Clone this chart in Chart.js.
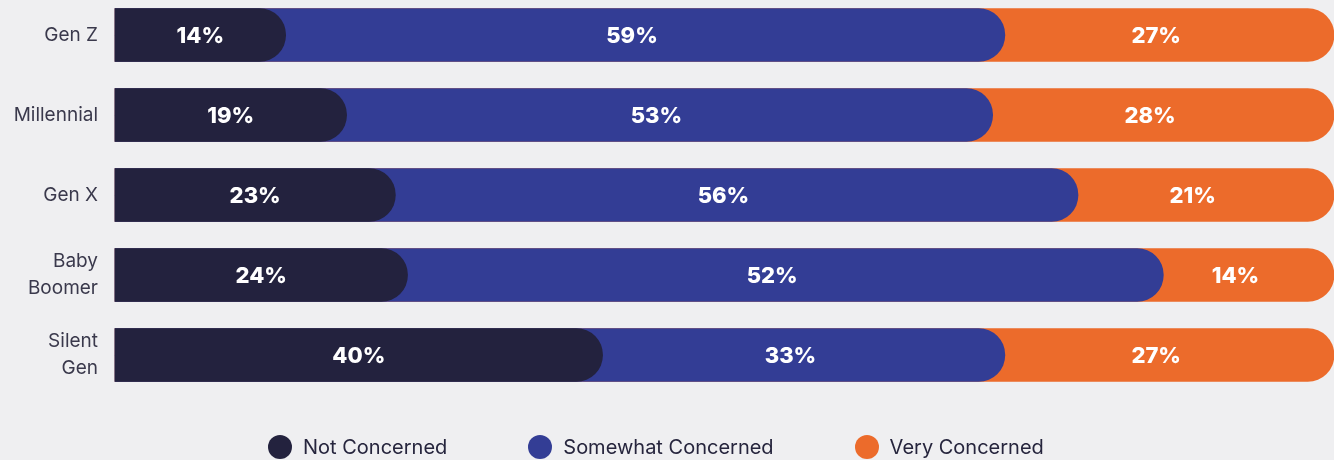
<!DOCTYPE html>
<html>
<head>
<meta charset="utf-8">
<script src="https://cdn.jsdelivr.net/npm/chart.js@4.4.1/dist/chart.umd.min.js"></script>
<style>
  html, body { margin: 0; padding: 0; background: #efeff1; }
  #wrap { position: relative; width: 1334px; height: 460px; overflow: hidden; }
  #legend { position: absolute; left: 268px; top: 435px; display: flex; align-items: center;
    font-family: Inter, sans-serif; font-size: 20px; color: #26253d; }
  #legend .item { display: flex; align-items: center; margin-right: 81px; }
  #legend .dot { width: 24px; height: 24px; border-radius: 50%; margin-right: 11px; }
</style>
</head>
<body>
<div id="wrap">
  <canvas id="genChart" width="1334" height="460"></canvas>
  <div id="legend"></div>
</div>
<script>
var categories = ['Gen Z', 'Millennial', 'Gen X', ['Baby', 'Boomer'], ['Silent', 'Gen']];
var seriesNames = ['Not Concerned', 'Somewhat Concerned', 'Very Concerned'];
var notConcerned = [14, 19, 23, 24, 40];
var somewhatConcerned = [59, 53, 56, 52, 33];
var veryConcerned = [27, 28, 21, 14, 27];
var colors = ['#23223e', '#333d95', '#ec6b2b'];

// each segment is drawn as a rounded bar from 0 out to its right edge, dark on top
var darkEnd = notConcerned.slice();
var blueEnd = veryConcerned.map(function(v) { return 100 - v; });
var orangeEnd = veryConcerned.map(function() { return 100; });

var segmentLabels = {
  id: 'segmentLabels',
  afterDatasetsDraw: function(chart) {
    var ctx = chart.ctx;
    ctx.save();
    ctx.fillStyle = '#ffffff';
    ctx.font = '800 22px Inter, sans-serif';
    ctx.textAlign = 'center';
    ctx.textBaseline = 'middle';
    chart.data.datasets.forEach(function(ds, d) {
      var meta = chart.getDatasetMeta(d);
      meta.data.forEach(function(bar, i) {
        var start = bar.base;
        if (d > 0) {
          var prev = chart.getDatasetMeta(d - 1).data[i];
          start = prev.x - prev.height / 2;
        }
        ctx.fillText(ds.shares[i] + '%', (start + bar.x) / 2, bar.y + 1);
      });
    });
    ctx.restore();
  }
};

function makeSet(n, ends, shares) {
  return {
    label: seriesNames[n],
    data: ends,
    shares: shares,
    backgroundColor: colors[n],
    borderRadius: 27,
    borderSkipped: 'start',
    barThickness: 53,
    grouped: false,
    clip: false
  };
}

var chart = new Chart(document.getElementById('genChart'), {
  type: 'bar',
  data: {
    labels: categories,
    datasets: [
      makeSet(0, darkEnd, notConcerned),
      makeSet(1, blueEnd, somewhatConcerned),
      makeSet(2, orangeEnd, veryConcerned)
    ]
  },
  options: {
    indexAxis: 'y',
    responsive: false,
    animation: false,
    layout: { padding: { top: 35, bottom: 105, left: 0, right: -9 } },
    scales: {
      x: { display: false, min: 0, max: 100 },
      y: {
        offset: false,
        grid: { display: false, drawTicks: false },
        border: { display: false },
        ticks: {
          padding: 17,
          color: '#3a394c',
          font: { family: 'Inter, sans-serif', size: 19, lineHeight: 1.4 }
        },
        afterFit: function(scale) {
          scale.width = 115;
          scale.paddingTop = 0;
          scale.paddingBottom = 0;
        }
      }
    },
    plugins: {
      legend: { display: false },
      tooltip: { enabled: false }
    }
  },
  plugins: [segmentLabels]
});

var legend = document.getElementById('legend');
seriesNames.forEach(function(name, n) {
  var item = document.createElement('div');
  item.className = 'item';
  item.innerHTML = '<span class="dot" style="background:' + colors[n] + '"></span><span>' + name + '</span>';
  legend.appendChild(item);
});
</script>
</body>
</html>
